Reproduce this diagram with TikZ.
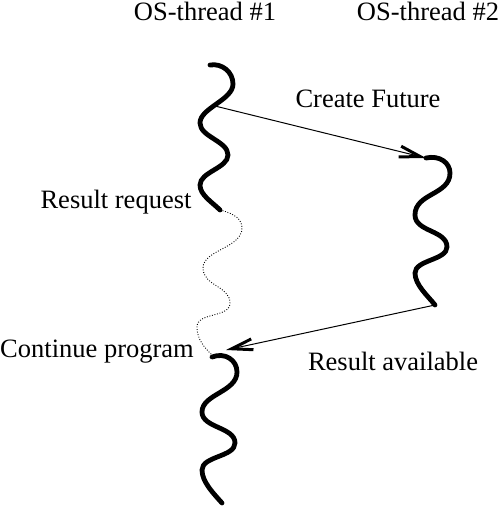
\documentclass[tikz,border=0pt]{standalone}
\usepackage{fontspec}
\setmainfont{Liberation Serif}
\usetikzlibrary{arrows.meta}
\begin{document}
\begin{tikzpicture}[x=1pt,y=-1pt,
  thread/.style={line width=4.8pt,line cap=round,line join=round},
  waiting/.style={line width=0.9pt,dash pattern=on 0.9pt off 1.7pt},
  msg/.style={line width=1pt,-{Straight Barb[length=21pt,width=11pt,line width=3pt]}},
  txt/.style={anchor=base,inner sep=0pt,font=\fontsize{26.5}{30}\selectfont}, ]

  \useasboundingbox (0,0) rectangle (501,507);

  \node[txt] (os1) at (205,20) {OS-thread \#1};
  \node[txt] (os2) at (428,20) {OS-thread \#2};
  \node[txt] (create) at (368,107) {Create Future};
  \node[txt] (request) at (116,208) {Result request};
  \node[txt] (continue) at (97,357) {Continue program};
  \node[txt] (avail) at (393,370) {Result available};

  \coordinate (cf1) at (215,106);
  \coordinate (cf2) at (426,158);
  \coordinate (ra1) at (435,305);
  \coordinate (ra2) at (226,350);

  % thread 1
  \draw[thread] (210,65) .. controls (222,63) and (233,72) .. (233,84)
    .. controls (233,100) and (200,108) .. (200,123)
    .. controls (200,137) and (228,141) .. (228,155)
    .. controls (228,168) and (200,172) .. (200,185)
    .. controls (200,195) and (212,202) .. (220,210);
  \draw[waiting] (220,210) .. controls (236,214) and (242,220) .. (242,228)
    .. controls (242,248) and (203,250) .. (203,268)
    .. controls (203,286) and (230,286) .. (230,303)
    .. controls (230,318) and (197,312) .. (197,327)
    .. controls (197,340) and (205,348) .. (212,355);
  \draw[thread] (212,357) .. controls (225,352) and (237,360) .. (237,372)
    .. controls (237,392) and (202,394) .. (202,412)
    .. controls (202,428) and (235,427) .. (235,443)
    .. controls (235,457) and (202,456) .. (202,470)
    .. controls (202,482) and (214,494) .. (222,503);

  % thread 2
  \draw[thread] (cf2) .. controls (440,155) and (450,163) .. (450,173)
    .. controls (450,195) and (415,193) .. (415,215)
    .. controls (415,232) and (447,230) .. (447,247)
    .. controls (447,260) and (415,260) .. (415,273)
    .. controls (415,285) and (428,296) .. (ra1);

  \path (cf1) edge[msg] (cf2)
  (ra1) edge[msg] (ra2);
\end{tikzpicture}
\end{document}
